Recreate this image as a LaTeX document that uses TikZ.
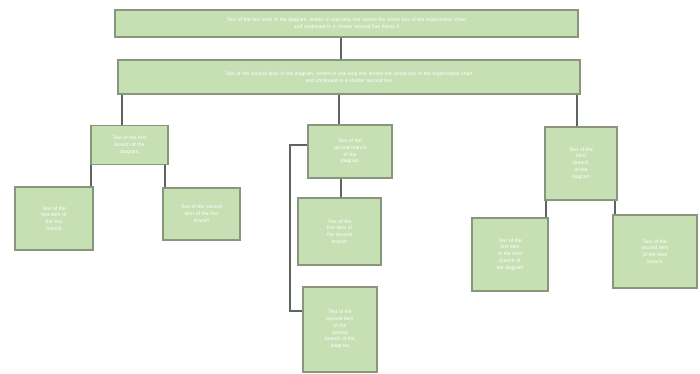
\documentclass[tikz,border=0pt]{standalone}
\usepackage{fontspec}
\setmainfont{Liberation Sans}
\definecolor{boxfill}{RGB}{198,224,180}
\definecolor{boxline}{RGB}{135,150,125}
\definecolor{connline}{RGB}{95,100,95}
\begin{document}
\begin{tikzpicture}[x=1pt,y=-1pt,
  box/.style={draw=boxline, fill=boxfill, line width=1.5pt, inner sep=2pt,
    text=white, font=\fontsize{5}{6.8}\selectfont, align=center},
  conn/.style={draw=connline, line width=1.6pt}]
\useasboundingbox[fill=white] (0,0) rectangle (700,374);

\node[box, minimum width=463, minimum height=27, text width=440] (top) at (346.5,23.5)
  {Text of the first level of the diagram, written in one long line across the whole box of the organisation chart\\ and continued in a shorter second line below it};
\node[box, minimum width=462, minimum height=34, text width=440] (second) at (349,77)
  {Text of the second level of the diagram, written in one long line across the whole box of the organisation chart\\ and continued in a shorter second line};

\node[box, minimum width=77, minimum height=39, text width=68] (A) at (129.5,145) {Text of the first\\ branch of the\\ diagram};
\node[box, minimum width=78, minimum height=63, text width=68] (A1) at (54,218.5) {Text of the\\ first item of\\ the first\\ branch};
\node[box, minimum width=77, minimum height=52, text width=68] (A2) at (201.5,214) {Text of the second\\ item of the first\\ branch};

\node[box, minimum width=84, minimum height=53, text width=74] (B) at (350,151.5) {Text of the\\ second branch\\ of the\\ diagram};
\node[box, minimum width=83, minimum height=67, text width=74] (B1) at (339.5,231.5) {Text of the\\ first item of\\ the second\\ branch};
\node[box, minimum width=74, minimum height=85, text width=66] (B2) at (340,329.5) {Text of the\\ second item\\ of the\\ second\\ branch of the\\ diagram};

\node[box, minimum width=72, minimum height=73, text width=64] (C) at (581,163.5) {Text of the\\ third\\ branch\\ of the\\ diagram};
\node[box, minimum width=76, minimum height=73, text width=66] (C1) at (510,254.5) {Text of the\\ first item\\ of the third\\ branch of\\ the diagram};
\node[box, minimum width=84, minimum height=73, text width=74] (C2) at (655,251.5) {Text of the\\ second item\\ of the third\\ branch};

\draw[conn] ([xshift=-5.5pt]top.south) -- ([xshift=-5.5pt]top.south |- second.north);
\draw[conn] ([xshift=-7.5pt]A.north |- second.south) -- ([xshift=-7.5pt]A.north);
\draw[conn] ([xshift=-11pt]B.north |- second.south) -- ([xshift=-11pt]B.north);
\draw[conn] ([xshift=-4pt]C.north |- second.south) -- ([xshift=-4pt]C.north);

\draw[conn] ([xshift=-2.5pt]A1.north east) -- ([xshift=-2.5pt]A1.north east |- A.south);
\draw[conn] ([xshift=2.5pt]A2.north west) -- ([xshift=2.5pt]A2.north west |- A.south);

\draw[conn] ([xshift=1.5pt]B1.north) -- ([xshift=1.5pt]B1.north |- B.south);
\draw[conn] ([yshift=6.5pt]B.west) -- ++(-17,0) |- ([yshift=18.5pt]B2.west);

\draw[conn] ([xshift=-3pt]C1.north east) -- ([xshift=-3pt]C1.north east |- C.south);
\draw[conn] ([xshift=2.5pt]C2.north west) -- ([xshift=2.5pt]C2.north west |- C.south);
\end{tikzpicture}
\end{document}
